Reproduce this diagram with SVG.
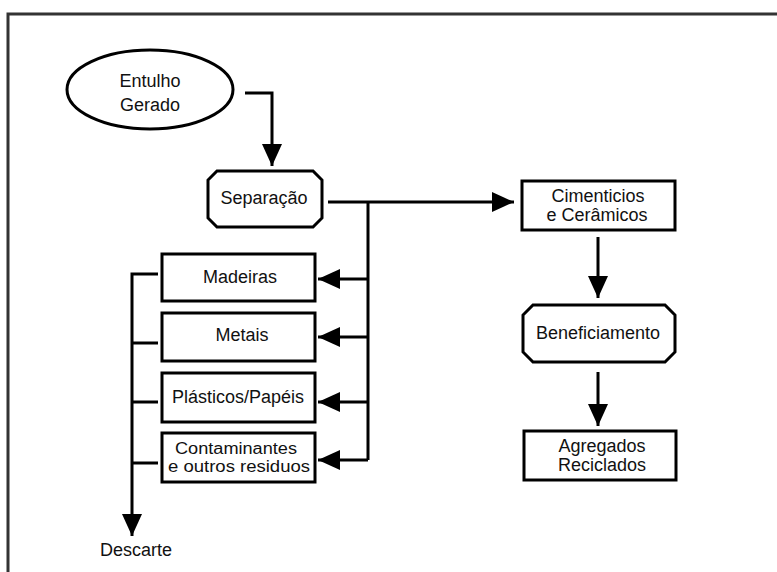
<svg xmlns="http://www.w3.org/2000/svg" width="777" height="572" viewBox="0 0 777 572">
  <defs>
    <style>
      .box { fill: #fff; stroke: #000; stroke-width: 3; }
      .wire { fill: none; stroke: #000; stroke-width: 3; }
      .lbl { font-family: "Liberation Sans", Arial, sans-serif; font-size: 18px; fill: #111; text-anchor: middle; }
      .tight { font-size: 16px; }
    </style>
    <marker id="head" markerUnits="userSpaceOnUse" markerWidth="22" markerHeight="20" refX="22" refY="10" orient="auto">
      <path d="M0,0 L22,10 L0,20 Z" fill="#000"/>
    </marker>
  </defs>

  <rect width="777" height="572" fill="#fff"/>

  <!-- page frame: top and left edges only -->
  <path d="M8,572 V14 H777" fill="none" stroke="#333" stroke-width="3"/>

  <g id="connectors">
    <path class="wire" d="M245,93 H272 V166" marker-end="url(#head)"/>
    <path class="wire" d="M328,202 H514" marker-end="url(#head)"/>
    <path class="wire" d="M368,202 V460"/>
    <path class="wire" d="M368,279 H318" marker-end="url(#head)"/>
    <path class="wire" d="M368,337 H318" marker-end="url(#head)"/>
    <path class="wire" d="M368,402 H318" marker-end="url(#head)"/>
    <path class="wire" d="M368,460 H318" marker-end="url(#head)"/>
    <path class="wire" d="M158,274 H132 V536" marker-end="url(#head)"/>
    <path class="wire" d="M158,343 H132"/>
    <path class="wire" d="M158,402 H132"/>
    <path class="wire" d="M158,463 H132"/>
    <path class="wire" d="M598,237 V298" marker-end="url(#head)"/>
    <path class="wire" d="M598,372 V426" marker-end="url(#head)"/>
  </g>

  <g id="entulho">
    <ellipse class="box" cx="150" cy="89.5" rx="83" ry="39.5"/>
    <text class="lbl" x="150" y="87">Entulho</text>
    <text class="lbl" x="150" y="111">Gerado</text>
  </g>

  <g id="separacao">
    <path class="box" d="M217,171 H313 L322,180 V218 L313,227 H217 L208,218 V180 Z"/>
    <text class="lbl" x="264" y="204">Separação</text>
  </g>

  <g id="cimenticios">
    <rect class="box" x="522" y="181" width="153" height="49"/>
    <text class="lbl" x="598" y="202">Cimenticios</text>
    <text class="lbl" x="597" y="221">e Cerâmicos</text>
  </g>

  <g id="beneficiamento">
    <path class="box" d="M533,305 H665 L675,315 V352 L665,362 H533 L523,352 V315 Z"/>
    <text class="lbl" x="598" y="339">Beneficiamento</text>
  </g>

  <g id="agregados">
    <rect class="box" x="524" y="431" width="152" height="49"/>
    <text class="lbl" x="602" y="452">Agregados</text>
    <text class="lbl" x="602" y="471">Reciclados</text>
  </g>

  <g id="madeiras">
    <rect class="box" x="162" y="254" width="153" height="47"/>
    <text class="lbl" x="240" y="283">Madeiras</text>
  </g>

  <g id="metais">
    <rect class="box" x="162" y="313" width="153" height="48"/>
    <text class="lbl" x="242" y="341">Metais</text>
  </g>

  <g id="plasticos">
    <rect class="box" x="162" y="373" width="153" height="49"/>
    <text class="lbl" x="238" y="403">Plásticos/Papéis</text>
  </g>

  <g id="contaminantes">
    <rect class="box" x="162" y="433" width="153" height="49"/>
    <text class="lbl tight" x="236" y="454" textLength="122" lengthAdjust="spacingAndGlyphs">Contaminantes</text>
    <text class="lbl tight" x="239" y="472" textLength="142" lengthAdjust="spacingAndGlyphs">e outros residuos</text>
  </g>

  <g id="descarte">
    <text class="lbl" x="136" y="556">Descarte</text>
  </g>
</svg>
